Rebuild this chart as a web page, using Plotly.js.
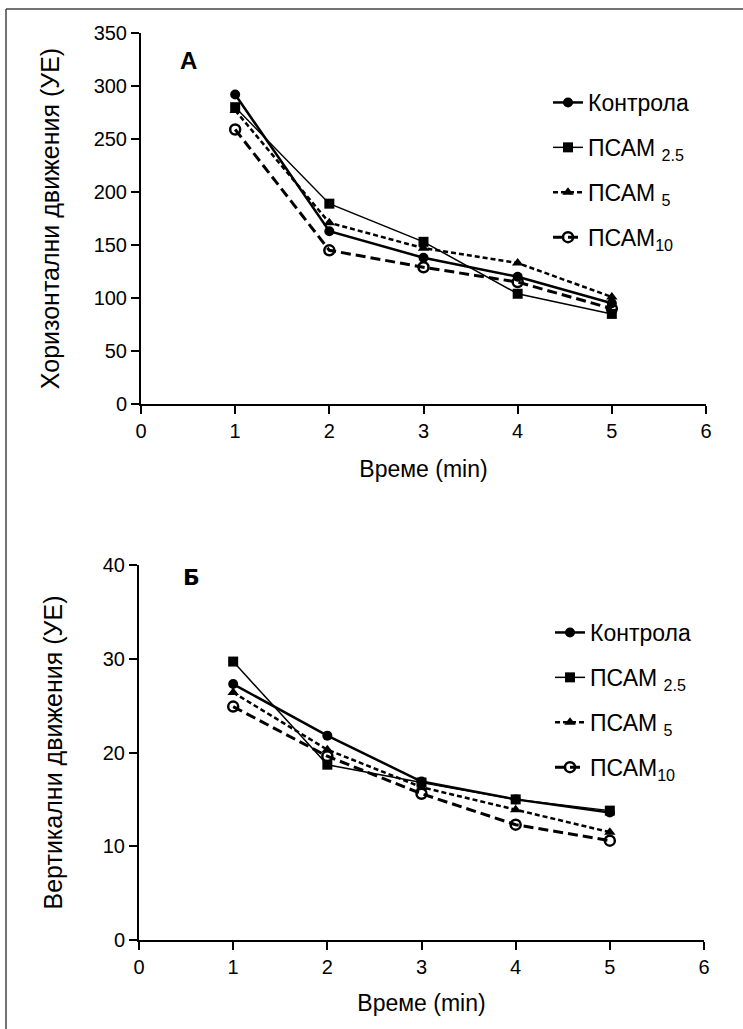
<!DOCTYPE html>
<html>
<head>
<meta charset="utf-8">
<script src="https://cdn.plot.ly/plotly-3.0.1.min.js"></script>
<style>html,body{margin:0;padding:0;background:#fff;}#chart{width:743px;height:1029px;}</style>
</head>
<body>
<div id="chart"></div>
<script>
// ---- data ----
const timeMin = [1, 2, 3, 4, 5];
const seriesNames = ['Контрола', 'ПСАМ <sub>2.5</sub>', 'ПСАМ <sub>5</sub>', 'ПСАМ<sub>10</sub>'];
// A: horizontal movements (УЕ)
const horizKontrola = [292, 163, 138, 120, 95];
const horizPSAM25   = [280, 189, 153, 104, 85];
const horizPSAM5    = [277, 171, 147, 133, 101];
const horizPSAM10   = [259, 145, 129, 115, 90];
// Б: vertical movements (УЕ)
const vertKontrola = [27.3, 21.8, 16.9, 15.0, 13.6];
const vertPSAM25   = [29.7, 18.7, 16.8, 15.0, 13.8];
const vertPSAM5    = [26.4, 20.3, 16.3, 13.9, 11.5];
const vertPSAM10   = [24.9, 19.6, 15.6, 12.3, 10.6];
const xTicks = [0, 1, 2, 3, 4, 5, 6];
const yTicksA = [0, 50, 100, 150, 200, 250, 300, 350];
const yTicksB = [0, 10, 20, 30, 40];

// ---- geometry helpers ----
const W = 743, H = 1029;
const px = v => v / W;
const py = v => 1 - v / H;

const FONT = 'Liberation Sans, Arial, sans-serif';
const styles = [
  {line: {color: '#000', width: 2.5, dash: 'solid'}, marker: {symbol: 'circle', size: 10, color: '#000'}},
  {line: {color: '#000', width: 1.5, dash: 'solid'}, marker: {symbol: 'square', size: 10, color: '#000'}},
  {line: {color: '#000', width: 2.5, dash: '5px,3px'}, marker: {symbol: 'triangle-up', size: 10, color: '#000'}},
  {line: {color: '#000', width: 3, dash: '10px,5px'}, marker: {symbol: 'circle-open', size: 10, color: '#000', line: {width: 2.5, color: '#000'}}}
];

const dataA = [horizKontrola, horizPSAM25, horizPSAM5, horizPSAM10];
const dataB = [vertKontrola, vertPSAM25, vertPSAM5, vertPSAM10];
const traces = [];
dataA.forEach((ys, i) => traces.push({
  x: timeMin, y: ys, name: seriesNames[i], type: 'scatter', mode: 'lines+markers',
  xaxis: 'x', yaxis: 'y', legend: 'legend', legendgroup: 'a' + i,
  line: styles[i].line, marker: styles[i].marker, cliponaxis: false
}));
dataB.forEach((ys, i) => traces.push({
  x: timeMin, y: ys, name: seriesNames[i], type: 'scatter', mode: 'lines+markers',
  xaxis: 'x2', yaxis: 'y2', legend: 'legend2', legendgroup: 'b' + i,
  line: styles[i].line, marker: styles[i].marker, cliponaxis: false
}));

const axisBase = {
  showline: true, linecolor: '#000', linewidth: 2, ticks: 'outside', ticklen: 8, tickwidth: 2,
  tickcolor: '#000', showgrid: false, zeroline: false, tickfont: {family: FONT, size: 20, color: '#000'}
};
const xTitleFont = {family: FONT, size: 23, color: '#000'};
const yTitleFont = {family: FONT, size: 25, color: '#000'};

const layout = {
  width: W, height: H, margin: {l: 0, r: 0, t: 0, b: 0},
  paper_bgcolor: '#fff', plot_bgcolor: '#fff', showlegend: true,
  xaxis: Object.assign({}, axisBase, {
    domain: [px(141), px(706)], range: [0, 6], tickvals: xTicks, anchor: 'y',
    title: {text: 'Време (min)', font: xTitleFont, standoff: 20}
  }),
  yaxis: Object.assign({}, axisBase, {
    domain: [py(404), py(33)], range: [0, 350], tickvals: yTicksA, anchor: 'x',
    title: {text: 'Хоризонтални движения (УЕ)', font: yTitleFont, standoff: 27}
  }),
  xaxis2: Object.assign({}, axisBase, {
    domain: [px(139), px(704)], range: [0, 6], tickvals: xTicks, anchor: 'y2',
    title: {text: 'Време (min)', font: xTitleFont, standoff: 18}
  }),
  yaxis2: Object.assign({}, axisBase, {
    domain: [py(940), py(565)], range: [0, 40], tickvals: yTicksB, anchor: 'x2',
    title: {text: 'Вертикални движения (УЕ)', font: yTitleFont, standoff: 33}
  }),
  legend: {
    x: px(548), y: py(81), xanchor: 'left', yanchor: 'top', bgcolor: 'rgba(0,0,0,0)',
    font: {family: FONT, size: 23, color: '#000'}, itemwidth: 30, tracegroupgap: 12
  },
  legend2: {
    x: px(550), y: py(611), xanchor: 'left', yanchor: 'top', bgcolor: 'rgba(0,0,0,0)',
    font: {family: FONT, size: 23, color: '#000'}, itemwidth: 30, tracegroupgap: 12
  },
  annotations: [
    {text: '<b>A</b>', xref: 'paper', yref: 'paper', x: px(178), y: py(45), showarrow: false,
     font: {family: FONT, size: 24, color: '#000'}},
    {text: '<b>Б</b>', xref: 'paper', yref: 'paper', x: px(181), y: py(577), showarrow: false,
     font: {family: 'DejaVu Sans, sans-serif', size: 22, color: '#000'}}
  ],
  shapes: [
    {type: 'line', xref: 'paper', yref: 'paper', x0: px(6), x1: 1.02, y0: py(9), y1: py(9), line: {color: '#444', width: 1.5}},
    {type: 'line', xref: 'paper', yref: 'paper', x0: px(6), x1: px(6), y0: py(9), y1: -0.02, line: {color: '#444', width: 1.5}}
  ]
};

Plotly.newPlot('chart', traces, layout, {displayModeBar: false, staticPlot: true});
</script>
</body>
</html>
